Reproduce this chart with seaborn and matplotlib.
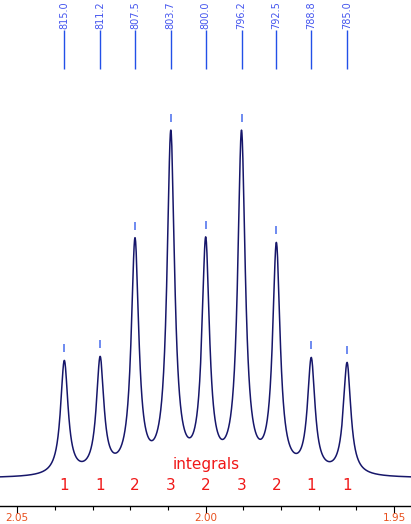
import numpy as np
import pandas as pd
import matplotlib
matplotlib.use("Agg")
import matplotlib.pyplot as plt
import seaborn as sns

# ==========================================
#   DATA (400 MHz, multiplet near 2.00 ppm)
# ==========================================
spec_mhz = 400.0
peak_hz = [815.0, 811.2, 807.5, 803.7, 800.0, 796.2, 792.5, 788.8, 785.0]
peak_amp = [114, 114, 231, 338, 228, 338, 226, 113, 112]
integrals = ["1", "1", "2", "3", "2", "3", "2", "1", "1"]
hwhm_hz = 0.48
x_ticks_major = [2.05, 2.00, 1.95]
x_ticks_minor = [2.04, 2.03, 2.02, 2.01, 1.99, 1.98, 1.97, 1.96]

# ==========================================
#   BUILD SPECTRUM (sum of lorentzians)
# ==========================================
peak_ppm = np.array(peak_hz) / spec_mhz
ppm = np.linspace(2.0546, 1.9455, 3000)
hz = ppm * spec_mhz
inten = np.zeros_like(ppm)
for p, a in zip(peak_hz, peak_amp):
    inten += a / (1 + ((hz - p) / hwhm_hz) ** 2)
df = pd.DataFrame({"ppm": ppm, "intensity": inten})

# ==========================================
#   PLOT
# ==========================================
sns.set_style("white")
plt.rcParams["font.family"] = ["DejaVu Sans"]

fig = plt.figure(figsize=(4.11, 5.24), dpi=100)
ax = fig.add_axes([0, 18.5 / 524, 1, 505.5 / 524])

sns.lineplot(data=df, x="ppm", y="intensity", color="#16166a", linewidth=1.1, ax=ax)

# little markers above each peak
top_vals = np.interp(peak_ppm[::-1], ppm[::-1], inten[::-1])[::-1]
ax.vlines(peak_ppm, top_vals + 8, top_vals + 16, color="#5577ee", linewidth=1.2)

# peak labels (Hz)
ax.vlines(peak_ppm, 409, 448, color="#2250e8", linewidth=1.0)
for p, h in zip(peak_ppm, peak_hz):
    ax.text(p, 449, f"{h:.1f}", rotation=90, ha="center", va="bottom",
            fontsize=7, color="#4455ee")

# integrals
ax.text(2.00, 14, "integrals", ha="center", va="center", fontsize=11, color="#f01818")
for p, t in zip(peak_ppm, integrals):
    ax.text(p, -7, t, ha="center", va="center", fontsize=11, color="#f01818")

ax.set_xlim(2.05456, 1.94554)
ax.set_ylim(-27, 478)
ax.set_xticks(x_ticks_major)
ax.set_xticklabels([f"{v:.2f}" for v in x_ticks_major])
ax.set_xticks(x_ticks_minor, minor=True)
ax.tick_params(axis="x", which="major", length=5, width=0.8, direction="out",
               colors="black", labelcolor="#e8501e", labelsize=7.5, pad=0.5, bottom=True)
ax.tick_params(axis="x", which="minor", length=3, width=0.8, direction="out",
               colors="black", bottom=True)
ax.set_yticks([])
ax.set_xlabel("")
ax.set_ylabel("")
for s in ["top", "left", "right"]:
    ax.spines[s].set_visible(False)
ax.spines["bottom"].set_color("black")
ax.spines["bottom"].set_linewidth(1)

fig.savefig("out.png", dpi=100)
